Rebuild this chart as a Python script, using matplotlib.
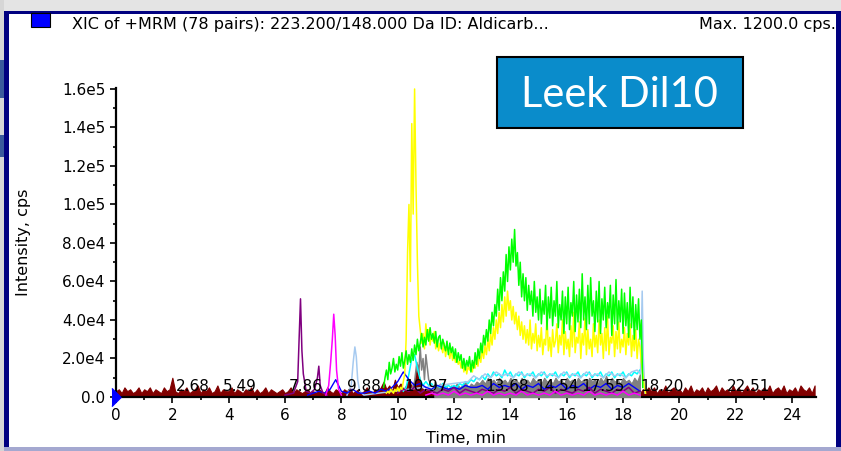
import numpy as np
import matplotlib
matplotlib.use("Agg")
import matplotlib.pyplot as plt
from matplotlib.patches import Rectangle
from matplotlib.ticker import MultipleLocator

W, H = 841, 451

# ---- data (intensities in thousands of cps) ----
# dark red baseline, 0.0 .. 24.8 min every 0.1 min
maroon_v = [
    3, 4, 2, 5, 3, 4, 2, 3, 5, 2,
    4, 3, 5, 2, 4, 3, 2, 5, 3, 4,
    10, 3, 2, 4, 3, 5, 2, 3, 4, 6,
    2, 4, 3, 5, 2, 3, 6, 2, 4, 3,
    3, 5, 2, 4, 3, 2, 4, 3, 5, 2,
    4, 2, 3, 5, 2, 4, 3, 2, 3, 4,
    2, 3, 5, 2, 4, 3, 2, 3, 4, 2,
    3, 2, 4, 3, 2, 5, 3, 2, 4, 3,
    2, 4, 3, 5, 2, 3, 4, 2, 3, 5,
    3, 2, 4, 3, 5, 8, 4, 6, 3, 9,
    5, 7, 4, 6, 9, 5, 8, 17, 6, 4,
    3, 4, 2, 3, 4, 2, 3, 2, 4, 3,
    2, 3, 2, 3, 2, 3, 2, 3, 2, 3,
    2, 3, 2, 3, 2, 3, 2, 3, 2, 3,
    2, 3, 2, 3, 2, 3, 2, 3, 2, 3,
    2, 3, 2, 3, 2, 3, 2, 3, 2, 3,
    2, 3, 2, 3, 2, 3, 2, 3, 2, 3,
    2, 3, 2, 3, 2, 3, 2, 3, 2, 3,
    2, 3, 2, 3, 2, 3, 2, 4, 3, 5,
    3, 5, 2, 4, 3, 6, 2, 4, 5, 3,
    4, 2, 5, 3, 6, 2, 4, 3, 5, 2,
    5, 3, 4, 6, 2, 5, 3, 4, 2, 6,
    3, 5, 2, 4, 6, 3, 5, 2, 4, 3,
    5, 3, 6, 2, 4, 5, 3, 6, 2, 4,
    3, 5, 2, 6, 4, 3, 5, 2, 6,
]

# yellow trace, 9.6 .. 18.8 min every 0.05 min
yellow_v = [
    2, 3, 2, 4, 3, 2, 4, 3, 5, 3,
    5, 4, 8, 12, 30, 75, 100, 60, 142, 95,
    160, 110, 70, 42, 35, 28, 33, 25, 38, 30,
    35, 27, 32, 29, 34, 25, 30, 24, 28, 26,
    23, 28, 21, 26, 24, 20, 25, 19, 23, 18,
    21, 17, 19, 15, 18, 13, 17, 12, 16, 14,
    17, 13, 18, 15, 20, 16, 22, 18, 25, 20,
    27, 22, 30, 24, 33, 27, 36, 30, 40, 33,
    44, 36, 48, 39, 52, 42, 55, 45, 50, 40,
    47, 38, 44, 35, 42, 32, 39, 30, 37, 28,
    35, 27, 40, 25, 33, 28, 38, 24, 32, 26,
    36, 22, 30, 27, 42, 24, 31, 21, 35, 26,
    29, 38, 23, 32, 27, 40, 22, 34, 25, 30,
    21, 37, 26, 44, 23, 31, 28, 39, 20, 33,
    27, 41, 22, 35, 25, 30, 21, 38, 26, 32,
    23, 40, 27, 33, 20, 36, 24, 42, 22, 31,
    28, 37, 21, 34, 25, 39, 23, 30, 26, 36,
    22, 33, 27, 38, 21, 32, 24, 35, 20, 30,
    26, 18, 12, 6, 2,
]

# green trace, 9.5 .. 18.7 min every 0.05 min
green_v = [
    5, 10, 14, 9, 18, 12, 15, 20, 13, 17,
    14, 21, 16, 23, 15, 19, 24, 17, 22, 18,
    25, 19, 27, 22, 30, 24, 28, 33, 26, 31,
    27, 35, 29, 36, 30, 33, 28, 34, 26, 31,
    32, 25, 30, 27, 24, 29, 22, 28, 23, 26,
    20, 25, 18, 23, 19, 22, 15, 20, 14, 19,
    16, 21, 13, 19, 15, 23, 17, 25, 20, 28,
    23, 32, 27, 35, 29, 40, 33, 44, 37, 48,
    42, 56, 45, 62, 50, 65, 55, 74, 60, 78,
    66, 82, 70, 87, 68, 75, 58, 70, 52, 64,
    50, 62, 45, 58, 48, 55, 42, 60, 44, 52,
    40, 56, 38, 50, 43, 58, 35, 52, 41, 57,
    37, 50, 42, 60, 36, 48, 40, 55, 33, 52,
    38, 57, 35, 49, 42, 60, 34, 53, 39, 56,
    36, 64, 40, 52, 35, 58, 38, 62, 42, 50,
    34, 55, 39, 60, 33, 51, 40, 57, 36, 49,
    41, 58, 32, 53, 38, 61, 35, 50, 39, 56,
    33, 54, 37, 49, 31, 57, 36, 52, 30, 48,
    35, 51, 30, 40, 5,
]

# grey peak around 10.8 min
grey_peak_t = [10.5, 10.6, 10.68, 10.75, 10.8, 10.85, 10.9, 10.95, 11.0, 11.1, 11.2]
grey_peak_v = [4, 8, 18, 12, 26, 14, 20, 9, 22, 9, 6]

# grey plateau, 11.3 .. 18.6 min every 0.1 min
grey_v = [
    8, 5, 7, 5, 6, 4, 6,
    5, 7, 5, 6, 8, 5, 7, 6, 8, 7,
    9, 7, 10, 8, 9, 7, 10, 8, 9, 7,
    10, 8, 9, 7, 10, 8, 9, 7, 10, 8,
    9, 7, 10, 8, 9, 7, 10, 8, 9, 7,
    10, 8, 9, 7, 10, 8, 9, 7, 10, 8,
    9, 7, 10, 8, 11, 7, 10, 8, 9, 7,
    10, 8, 9, 7, 10, 8, 12,
]

# cyan trace, 10.2 .. 18.6 min every 0.1 min
cyan_v = [
    3, 5, 12, 20, 22, 15, 9, 6,
    8, 6, 7, 5, 6, 5, 7, 5, 6, 5,
    6, 5, 7, 6, 8, 7, 9, 8, 10, 9,
    11, 9, 12, 10, 13, 11, 12, 10, 14, 11,
    13, 10, 12, 11, 13, 10, 12, 11, 13, 10,
    12, 11, 13, 10, 12, 11, 13, 10, 12, 11,
    13, 10, 12, 11, 13, 10, 12, 11, 13, 10,
    12, 11, 13, 10, 12, 11, 13, 10, 12, 11,
    13, 10, 12, 11, 13, 12, 14,
]

# blue trace, 6.8 .. 18.6 min every 0.2 min
blue_v = [
    1, 2, 3, 2, 4,
    9, 3, 2, 4, 2,
    2, 3, 2, 4, 3,
    5, 8, 13, 9, 6,
    7, 5, 4, 6, 5,
    4, 5, 4, 6, 5,
    5, 6, 4, 7, 5,
    6, 5, 7, 4, 6,
    5, 7, 4, 6, 5,
    7, 4, 6, 5, 7,
    4, 6, 5, 7, 4,
    6, 5, 7, 5, 3,
]

# light blue trace: peak near 8.5, plateau, spike at 18.7
lblue_t = [8.2, 8.35, 8.42, 8.48, 8.53, 8.58, 8.65, 8.8,
           12.5, 12.7, 12.9, 13.1, 13.3, 13.5, 13.7, 13.9, 14.1, 14.3,
           14.5, 14.7, 14.9, 15.1, 15.3, 15.5, 15.7, 15.9, 16.1, 16.3,
           16.5, 16.7, 16.9, 17.1, 17.3, 17.5, 17.7, 17.9, 18.1, 18.3,
           18.5, 18.62, 18.68, 18.72, 18.78]
lblue_v = [1, 6, 18, 26, 21, 9, 3, 1,
           8, 11, 9, 12, 10, 13, 11, 12, 10, 13,
           11, 12, 10, 13, 11, 12, 10, 13, 11, 12,
           10, 13, 11, 12, 10, 13, 11, 12, 10, 13,
           14, 12, 55, 20, 2]

# purple: peaks at 6.6 and 7.2 plus low baseline 10.0 .. 18.6 (0.2 min)
purple_t = [6.0, 6.3, 6.45, 6.5, 6.55, 6.6, 6.65, 6.75, 6.9,
            7.05, 7.15, 7.2, 7.25, 7.35, 7.5]
purple_v = [1, 2, 8, 30, 51, 24, 12, 3, 2, 4, 10, 16, 6, 2, 1]
purple_base_v = [2, 4, 3, 5, 2, 4, 3, 2, 4, 3, 5, 2, 4, 3, 2,
                 4, 3, 2, 4, 3, 5, 2, 4, 3, 2, 4, 3, 5, 2, 4,
                 3, 2, 4, 3, 5, 2, 4, 3, 2, 4, 3, 5, 2, 3]

# magenta: peak at 7.75 plus low baseline 11.0 .. 18.6 (0.2 min)
magenta_t = [7.45, 7.55, 7.62, 7.68, 7.73, 7.78, 7.83, 7.9, 8.0]
magenta_v = [1, 6, 18, 30, 43, 32, 14, 4, 1]
magenta_base_v = [1, 2, 1, 2, 1, 3, 1, 2, 1, 2, 1, 3, 1, 2, 1, 2, 1, 3, 1, 2,
                  1, 2, 1, 3, 1, 2, 1, 2, 1, 3, 1, 2, 1, 2, 1, 3, 1, 2, 1]

peak_labels = ['2.68', '5.49', '7.86', '9.88', '10.97',
               '13.68', '14.54', '17.55', '18.20', '22.51']
label_x = [2.73, 4.40, 6.74, 8.80, 11.0, 13.9, 15.65, 17.3, 19.4, 22.47]

y_ticks = [0, 2e4, 4e4, 6e4, 8e4, 1e5, 1.2e5, 1.4e5, 1.6e5]
y_ticklabels = ['0.0', '2.0e4', '4.0e4', '6.0e4', '8.0e4',
                '1.0e5', '1.2e5', '1.4e5', '1.6e5']


def grid(start, step, n):
    return start + step * np.arange(n)


def px_box(fig, x0, y0, x1, y1, **kw):
    r = Rectangle((x0 / W, 1 - y1 / H), (x1 - x0) / W, (y1 - y0) / H,
                  transform=fig.transFigure, **kw)
    fig.add_artist(r)
    return r


fig = plt.figure(figsize=(W / 100, H / 100), dpi=100)
fig.patch.set_facecolor('white')

# window frame from the screenshot
px_box(fig, 0, 0, W, 11, color='#e4e4e4', lw=0)
px_box(fig, 0, 0, 4, H, color='#d6d6d6', lw=0)
px_box(fig, 0, 60, 4, 98, color='#3a5a9c', lw=0)
px_box(fig, 0, 135, 4, 157, color='#3a5a9c', lw=0)
px_box(fig, 4, 11, 837, 14, color='#000080', lw=0)
px_box(fig, 4, 11, 9, 449, color='#000080', lw=0)
px_box(fig, 836, 11, 841, 449, color='#000080', lw=0)
px_box(fig, 4, 447, 841, 451, color='#a4a8d0', lw=0)
px_box(fig, 31, 13, 50, 27, facecolor='#0000ff', edgecolor='black', lw=0.8)

fig.text(72 / W, 1 - 29 / H,
         'XIC of +MRM (78 pairs): 223.200/148.000 Da ID: Aldicarb...',
         fontsize=11.5, va='baseline', ha='left', family='DejaVu Sans')
fig.text(836 / W, 1 - 29 / H, 'Max. 1200.0 cps.',
         fontsize=11.5, va='baseline', ha='right', family='DejaVu Sans')

ax = fig.add_axes([116 / W, (H - 397) / H, 700 / W, 309 / H])

k = 1000.0
ax.fill_between(grid(0.0, 0.1, len(maroon_v)), 0, np.array(maroon_v) * k,
                color='#800000', lw=0.8, zorder=2)
ax.fill_between(grid(11.3, 0.1, len(grey_v)), 0, np.array(grey_v) * k,
                color='#808080', lw=0.8, zorder=3)
ax.plot(grey_peak_t, np.array(grey_peak_v) * k, color='#808080', lw=1.1, zorder=3)
ax.plot(grid(10.2, 0.1, len(cyan_v)), np.array(cyan_v) * k,
        color='#00ffff', lw=1.1, zorder=3)
ax.plot(lblue_t, np.array(lblue_v) * k, color='#a6caf0', lw=1.1, zorder=3)
ax.plot(grid(6.8, 0.2, len(blue_v)), np.array(blue_v) * k,
        color='#0000ff', lw=1.0, zorder=3)
ax.plot(grid(10.0, 0.2, len(purple_base_v)), np.array(purple_base_v) * k,
        color='#800080', lw=1.1, zorder=3)
ax.plot(grid(11.0, 0.2, len(magenta_base_v)), np.array(magenta_base_v) * k,
        color='#ff00ff', lw=1.1, zorder=3)
ax.plot(purple_t, np.array(purple_v) * k, color='#800080', lw=1.1, zorder=4)
ax.plot(magenta_t, np.array(magenta_v) * k, color='#ff00ff', lw=1.1, zorder=4)
ax.plot(grid(9.6, 0.05, len(yellow_v)), np.array(yellow_v) * k,
        color='#ffff00', lw=1.1, zorder=4)
ax.plot(grid(9.5, 0.05, len(green_v)), np.array(green_v) * k,
        color='#00ff00', lw=1.1, zorder=5)

for lab, x in zip(peak_labels, label_x):
    ax.text(x, 5200, lab, ha='center', va='center', fontsize=11, zorder=8)

# start marker
ax.plot([0], [0], marker=[(-0.5, -1), (0.5, 0), (-0.5, 1)], markersize=13,
        color='#0000ff', clip_on=False, zorder=9)

ax.set_xlim(0, 24.85)
ax.set_ylim(0, 1.605e5)
ax.xaxis.set_major_locator(MultipleLocator(2))
ax.xaxis.set_minor_locator(MultipleLocator(1))
ax.set_yticks(y_ticks)
ax.set_yticklabels(y_ticklabels)
ax.yaxis.set_minor_locator(MultipleLocator(1e4))
ax.tick_params(which='major', length=4, width=1.2, labelsize=11)
ax.tick_params(which='minor', length=2, width=1.2)
ax.tick_params(axis='y', pad=3.5)
ax.tick_params(axis='x', pad=4)
for s in ['top', 'right']:
    ax.spines[s].set_visible(False)
for s in ['left', 'bottom']:
    ax.spines[s].set_linewidth(1.6)

ax.set_xlabel('Time, min', fontsize=11.5)
ax.set_ylabel('Intensity, cps', fontsize=11.5)
ax.xaxis.set_label_coords(0.5, -0.11)
ax.yaxis.set_label_coords(-0.122, 0.5)

# sample name box
px_box(fig, 497, 57, 743, 128, facecolor='#0a8ccb', edgecolor='black', lw=1.5,
       zorder=10)
fig.text(619 / W, 1 - 107 / H, 'Leek Dil10', color='white', fontsize=30,
         ha='center', va='baseline', family='Lato', fontweight='normal',
         zorder=11)

fig.savefig('out.png', dpi=100)
